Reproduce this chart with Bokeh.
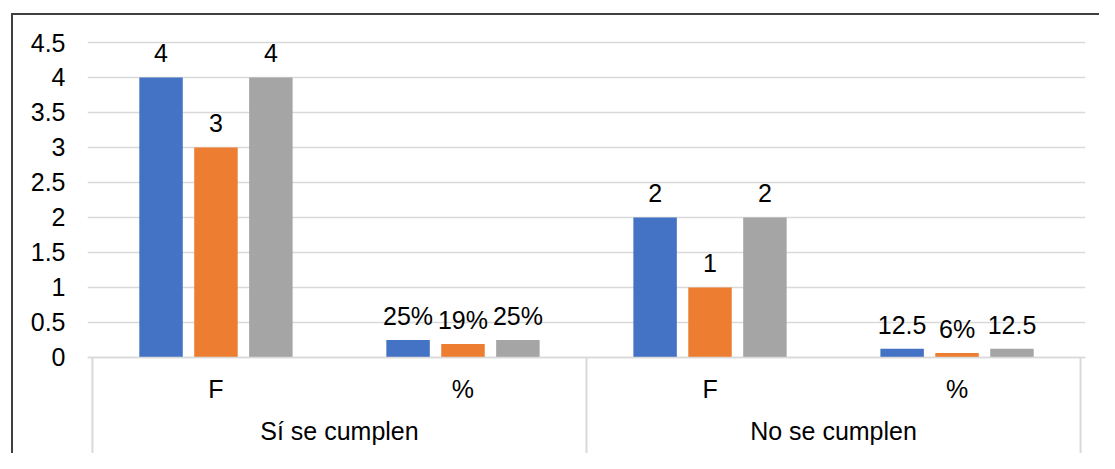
from bokeh.plotting import figure
from bokeh.models import (FactorRange, Range1d, FixedTicker, NumeralTickFormatter,
                          CategoricalAxis, ColumnDataSource)
from bokeh.transform import dodge
from bokeh.core.properties import value
from bokeh.embed import file_html
from bokeh.resources import INLINE

# ---- data ----
groups = ["Sí se cumplen", "No se cumplen"]
subcats = ["F", "%"]
series_colors = ["#4472C4", "#ED7D31", "#A5A5A5"]
series1_values = [4, 0.25, 2, 0.125]
series2_values = [3, 0.19, 1, 0.0625]
series3_values = [4, 0.25, 2, 0.125]
series1_labels = ["4", "25%", "2", "12.5"]
series2_labels = ["3", "19%", "1", "6%"]
series3_labels = ["4", "25%", "2", "12.5"]
y_ticks = [0, 0.5, 1, 1.5, 2, 2.5, 3, 3.5, 4, 4.5]

factors = [(g, s) for g in groups for s in subcats]

FONT_NAME = "Liberation Sans"
FONT = value(FONT_NAME)
FS = "25px"
GRID = "#d9d9d9"

# ---- layout geometry ----
W, H = 1099, 453
PX_PER_UNIT = 69.98
TOP_BORDER = 40
y_end = 4.5 + 2.0 / PX_PER_UNIT
y_start = y_end - (H - TOP_BORDER) / PX_PER_UNIT

x_range = FactorRange(factors=factors, group_padding=0, subgroup_padding=0,
                      range_padding=0.02, range_padding_units="absolute")

p = figure(width=W, height=H, x_range=x_range, y_range=Range1d(y_start, y_end),
           output_backend="svg", toolbar_location=None,
           min_border_left=87, min_border_right=14, min_border_top=TOP_BORDER,
           min_border_bottom=0,
           background_fill_color="white", border_fill_color="white",
           border_fill_alpha=0)
# outer chart frame (left and top edges visible in the crop)
p.styles = {
    "background-color": "white",
    "background-image": "linear-gradient(#3f3f3f, #3f3f3f), linear-gradient(#3f3f3f, #3f3f3f)",
    "background-position": "11px 13px, 11px 13px",
    "background-size": "2px 100%, 100% 2px",
    "background-repeat": "no-repeat, no-repeat",
}
p.outline_line_color = None

# grid
p.xgrid.visible = False
p.ygrid.grid_line_color = GRID
p.ygrid.grid_line_width = 1.5

# y axis
ya = p.yaxis[0]
ya.ticker = FixedTicker(ticks=y_ticks)
ya.formatter = NumeralTickFormatter(format="0.[0]")
ya.axis_line_color = None
ya.major_tick_line_color = None
ya.minor_tick_line_color = None
ya.major_tick_out = 0
ya.major_tick_in = 0
ya.major_label_standoff = 22
ya.major_label_text_font = FONT_NAME
ya.major_label_text_font_size = FS
ya.major_label_text_color = "black"

# x axis (sub-category labels)
xa = p.xaxis[0]
xa.fixed_location = 0
xa.axis_line_color = GRID
xa.axis_line_width = 1.5
xa.major_tick_line_color = None
xa.major_tick_out = 0
xa.major_tick_in = 0
xa.separator_line_color = None
xa.major_label_standoff = 18
xa.major_label_text_font = FONT_NAME
xa.major_label_text_font_size = FS
xa.major_label_text_color = "black"
xa.group_text_color = None

# second axis for the group labels
ga = CategoricalAxis(fixed_location=0)
ga.axis_line_color = None
ga.major_tick_line_color = None
ga.major_tick_out = 0
ga.major_tick_in = 0
ga.separator_line_color = None
ga.major_label_standoff = 60
ga.major_label_text_font = FONT_NAME
ga.major_label_text_font_size = FS
ga.major_label_text_color = None
ga.group_text_font = FONT_NAME
ga.group_text_font_size = FS
ga.group_text_font_style = "normal"
ga.group_text_color = "black"
p.add_layout(ga, "below")

# dividers of the category axis
div_x = [(groups[0], subcats[0], -0.5)] + [(g, subcats[-1], 0.5) for g in groups]
p.segment(x0=div_x, x1=div_x, y0=[0] * len(div_x), y1=[y_start] * len(div_x),
          line_color=GRID, line_width=2)

# bars + labels
offsets = [-0.2223, 0.0, 0.2223]
all_values = [series1_values, series2_values, series3_values]
all_labels = [series1_labels, series2_labels, series3_labels]
for off, col, vals, labs in zip(offsets, series_colors, all_values, all_labels):
    src = ColumnDataSource(dict(x=factors, top=vals, label=labs))
    p.vbar(x=dodge("x", off, range=p.x_range), top="top", bottom=0, width=0.176,
           source=src, fill_color=col, line_color=None)
    p.text(x=dodge("x", off, range=p.x_range), y="top", text="label", source=src,
           text_align="center", text_baseline="alphabetic", y_offset=-24,
           text_font=FONT, text_font_size=FS, text_color="black")

open("out.html", "w").write(file_html(p, INLINE))
